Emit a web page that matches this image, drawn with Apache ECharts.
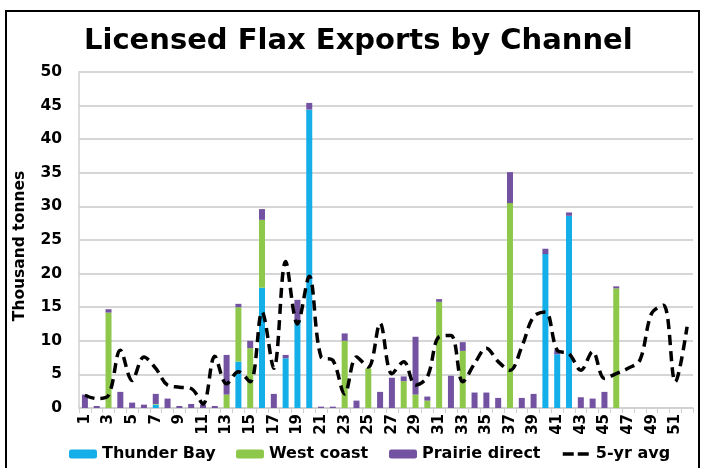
<!DOCTYPE html>
<html><head><meta charset="utf-8">
<script src="https://cdn.jsdelivr.net/npm/echarts@6/dist/echarts.min.js"></script>
<style>html,body{margin:0;padding:0;background:#fff}#c{width:703px;height:468px}</style>
</head><body><div id="c"></div>
<script>
const weeks = Array.from({length:52},(_,i)=>String(i+1));
const thunderBay = [0,0,0,0,0,0,0.5,0,0,0,0,0,0,6.9,0,17.9,0,7.4,13.0,44.4,0,0,0,0,0,0,0,0,0,0,0,0,0,0,0,0,0,0,0,22.9,8.0,28.6,0,0,0,0,0,0,0,0,0,0];
const westCoast = [0,0,14.2,0,0,0,0.1,0,0,0,0,0,2.0,8.1,8.9,10.1,0,0,0,0,0,0,10.0,0,5.9,0,0,4.0,2.0,1.1,15.8,0,8.5,0,0,0,30.5,0,0,0,0,0,0,0,0,17.8,0,0,0,0,0,0];
const prairie = [2.0,0.3,0.5,2.4,0.8,0.5,1.5,1.4,0.3,0.6,0.5,0.3,5.9,0.5,1.1,1.6,2.1,0.5,3.1,1.0,0.2,0.2,1.1,1.1,0,2.4,4.5,0.7,8.6,0.6,0.4,4.8,1.3,2.3,2.3,1.5,4.6,1.5,2.1,0.8,0.6,0.5,1.6,1.4,2.4,0.3,0,0,0,0,0,0];
const fiveYrAvg = [1.9,1.4,1.9,8.6,4.1,7.6,5.9,3.4,3.1,2.9,0.6,7.7,3.6,5.4,3.9,14.3,5.9,21.8,12.5,19.6,7.6,7.1,2.1,7.6,6.1,12.6,5.1,6.9,3.4,4.6,10.6,10.8,3.9,6.6,8.9,6.9,5.6,9.1,13.6,14.3,8.6,8.1,5.6,8.4,4.4,5.1,5.9,7.1,14.1,15.3,3.9,12.1];
const seriesNames = ['Thunder Bay','West coast','Prairie direct','5-yr avg'];
const yTicks = [0,5,10,15,20,25,30,35,40,45,50];

const chart = echarts.init(document.getElementById('c'));
const F = '"DejaVu Sans", sans-serif';
const border = {type:'rect', shape:{x:6,y:11,width:693,height:470}, style:{fill:'none', stroke:'#000', lineWidth:2}, silent:true};
const barSeries = (name, data, color) => ({
  name, type:'bar', stack:'t', data: data.map(v => v === 0 ? null : v), barWidth:6,
  itemStyle:{color},
  emphasis:{disabled:true}
});
const legendLefts = [64, 231, 384, 556];
const legendText = {fontSize:16, fontWeight:'bold', color:'#000', fontFamily:F};
const legends = seriesNames.map((n, i) => ({
  bottom:1, left:legendLefts[i], itemWidth:28, itemHeight:9, textStyle:legendText,
  data:[ i === 3 ? {name:n, itemStyle:{opacity:0}, lineStyle:{type:[11,4], width:3.5, color:'#000'}} : {name:n} ]
}));
chart.setOption({
  animation:false,
  textStyle:{fontFamily:F},
  title:{text:'Licensed Flax Exports by Channel', left:79, top:22,
    textStyle:{fontSize:29, fontWeight:'bold', color:'#000', fontFamily:F}},
  graphic:[border],
  grid:{left:79, right:10, top:72, bottom:60},
  legend: legends,
  xAxis:{type:'category', data:weeks,
    axisLine:{lineStyle:{color:'#D0D0D0', width:1.5}},
    axisTick:{show:true, interval:0, lineStyle:{color:'#D0D0D0'}, length:5},
    axisLabel:{interval:1, rotate:90, fontSize:15, fontWeight:'bold', color:'#000', margin:6, fontFamily:F}},
  yAxis:{type:'value', min:0, max:50, interval:5,
    name:'Thousand tonnes', nameLocation:'middle', nameGap:51,
    nameTextStyle:{fontSize:15.5, fontWeight:'bold', color:'#000', fontFamily:F, padding:[0,12,0,0]},
    axisLine:{show:true, lineStyle:{color:'#D0D0D0', width:1.5}},
    axisTick:{show:false},
    splitLine:{lineStyle:{color:'#D6D6D6', width:2}},
    axisLabel:{fontSize:15.5, fontWeight:'bold', color:'#000', margin:17, fontFamily:F,
      formatter:v=> yTicks.includes(v)? String(v):''}},
  series:[
    barSeries('Thunder Bay', thunderBay, '#14AEE8'),
    barSeries('West coast', westCoast, '#8DC84A'),
    barSeries('Prairie direct', prairie, '#7352A2'),
    {name:'5-yr avg', type:'line', data:fiveYrAvg, smooth:0.35, symbol:'none',
      lineStyle:{color:'#000', width:3.5, type:[10,6]}, itemStyle:{color:'#000'}, z:5}
  ]
});
</script></body></html>
